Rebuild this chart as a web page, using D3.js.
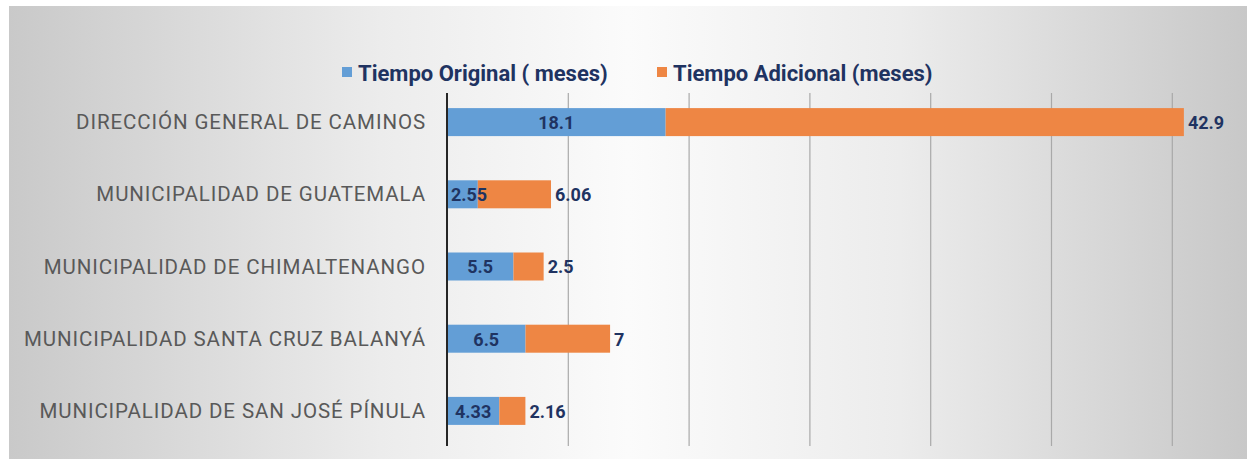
<!DOCTYPE html>
<html>
<head>
<meta charset="utf-8">
<script src="https://cdn.jsdelivr.net/npm/d3@7"></script>
<style>
  html, body { margin: 0; padding: 0; background: #fff; }
  svg { display: block; }
</style>
</head>
<body>
<div id="chart"></div>
<script>
const categories = [
  'DIRECCIÓN GENERAL DE CAMINOS',
  'MUNICIPALIDAD DE GUATEMALA',
  'MUNICIPALIDAD DE CHIMALTENANGO',
  'MUNICIPALIDAD SANTA CRUZ BALANYÁ',
  'MUNICIPALIDAD DE SAN JOSÉ PÍNULA'
]
const original   = [18.1, 2.55, 5.5, 6.5, 4.33]
const additional = [42.9, 6.06, 2.5, 7, 2.16]
const seriesNames = ['Tiempo Original ( meses)', 'Tiempo Adicional (meses)']
const gridTicks = [0, 10, 20, 30, 40, 50, 60]

const W = 1247, H = 459
const BLUE = '#639ed6', ORANGE = '#ee8644', NAVY = '#1f3361', GREY = '#595959'
const FONT = "'Liberation Sans Narrow', 'Arial Narrow', 'Roboto', sans-serif"

const svg = d3.select('#chart').append('svg')
  .attr('width', W).attr('height', H)
  .style('font-family', FONT)

// fondo con degradado gris
const defs = svg.append('defs')
const grad = defs.append('linearGradient').attr('id', 'bg')
  .attr('x1', 0).attr('x2', 1).attr('y1', 0).attr('y2', 0)
grad.append('stop').attr('offset', '0%').attr('stop-color', '#c9c9c9')
grad.append('stop').attr('offset', '30%').attr('stop-color', '#ececec')
grad.append('stop').attr('offset', '50%').attr('stop-color', '#fbfbfb')
grad.append('stop').attr('offset', '72%').attr('stop-color', '#ececec')
grad.append('stop').attr('offset', '100%').attr('stop-color', '#c8c8c8')

svg.append('rect').attr('x', 9).attr('y', 6).attr('width', W - 9).attr('height', H - 6)
  .attr('fill', 'url(#bg)')

const x0 = 447
const x = d3.scaleLinear().domain([0, 10]).range([x0, x0 + 120.8])
const y = d3.scaleBand().domain(categories).range([86, 447]).padding(0)
const barH = 28
const gridTop = 93, gridBottom = 446

// lineas de cuadricula
const grid = svg.append('g')
  .attr('transform', `translate(0,${gridBottom})`)
  .call(d3.axisBottom(x).tickValues(gridTicks.slice(1)).tickSize(-(gridBottom - gridTop)).tickFormat(''))
grid.select('.domain').remove()
grid.selectAll('line').attr('stroke', '#a9a9a9').attr('stroke-width', 1.2)

// barras apiladas
const rows = categories.map((c, i) => ({ cat: c, o: original[i], a: additional[i] }))
const stack = d3.stack().keys(['o', 'a'])(rows)
const colors = [BLUE, ORANGE]

svg.append('g').selectAll('g')
  .data(stack)
  .join('g')
  .attr('fill', (d, i) => colors[i])
  .selectAll('rect')
  .data(d => d)
  .join('rect')
  .attr('x', d => x(d[0]))
  .attr('y', d => y(d.data.cat) + (y.bandwidth() - barH) / 2)
  .attr('width', d => x(d[1]) - x(d[0]))
  .attr('height', barH)

// eje vertical
svg.append('line')
  .attr('x1', x0).attr('x2', x0).attr('y1', gridTop).attr('y2', gridBottom)
  .attr('stroke', '#262626').attr('stroke-width', 2)

// etiquetas de categoria
svg.append('g').selectAll('text')
  .data(categories)
  .join('text')
  .attr('x', 426)
  .attr('y', d => y(d) + y.bandwidth() / 2)
  .attr('dy', '0.35em')
  .attr('text-anchor', 'end')
  .attr('fill', GREY)
  .attr('font-size', '20.5px')
  .attr('letter-spacing', '0.9px')
  .text(d => d)

// valores
const labels = svg.append('g')
  .attr('fill', NAVY)
  .attr('font-size', '18px')
  .attr('font-weight', 'bold')

labels.selectAll('.v-o')
  .data(rows)
  .join('text')
  .attr('class', 'v-o')
  .attr('x', d => Math.max(x((0 + d.o) / 2), x0 + 22))
  .attr('y', d => y(d.cat) + y.bandwidth() / 2)
  .attr('dy', '0.38em')
  .attr('text-anchor', 'middle')
  .text(d => d.o)

labels.selectAll('.v-a')
  .data(rows)
  .join('text')
  .attr('class', 'v-a')
  .attr('x', d => x(d.o + d.a) + 4)
  .attr('y', d => y(d.cat) + y.bandwidth() / 2)
  .attr('dy', '0.38em')
  .text(d => d.a)

// leyenda
const legend = svg.append('g').attr('transform', 'translate(342,73)')
const legX = [0, 315]
seriesNames.forEach((name, i) => {
  const item = legend.append('g').attr('transform', `translate(${legX[i]},0)`)
  item.append('rect').attr('x', 0).attr('y', -6).attr('width', 10).attr('height', 10)
    .attr('fill', colors[i])
  item.append('text')
    .attr('x', 16).attr('y', 0)
    .attr('dy', '0.35em')
    .attr('fill', NAVY)
    .attr('font-size', '22px')
    .attr('font-weight', 'bold')
    .text(name)
})
</script>
</body>
</html>
